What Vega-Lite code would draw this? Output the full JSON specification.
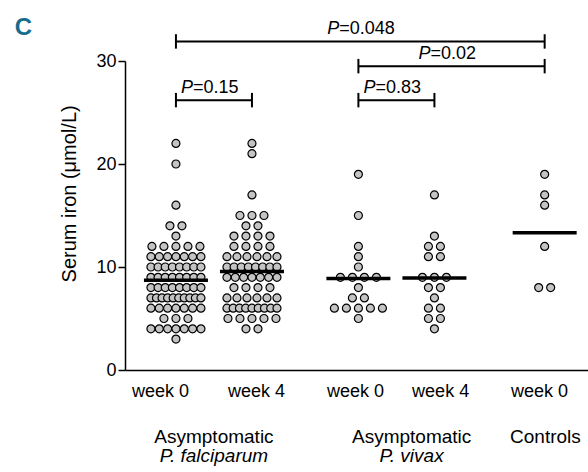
{
  "$schema": "https://vega.github.io/schema/vega-lite/v6.json",
  "width": 463,
  "height": 309,
  "autosize": {"type": "none"},
  "padding": {"left": 125, "top": 61, "right": 0, "bottom": 102},
  "config": {
    "view": {"stroke": null},
    "font": "Liberation Sans, Arial, sans-serif"
  },
  "datasets": {
    "dots": [
      {"g":"Pf0","v":22},{"g":"Pf0","v":20},{"g":"Pf0","v":16},{"g":"Pf0","v":14},{"g":"Pf0","v":14},{"g":"Pf0","v":13},
      {"g":"Pf0","v":12},{"g":"Pf0","v":12},{"g":"Pf0","v":12},{"g":"Pf0","v":12},{"g":"Pf0","v":12},
      {"g":"Pf0","v":11},{"g":"Pf0","v":11},{"g":"Pf0","v":11},{"g":"Pf0","v":11},{"g":"Pf0","v":11},{"g":"Pf0","v":11},{"g":"Pf0","v":11},
      {"g":"Pf0","v":10},{"g":"Pf0","v":10},{"g":"Pf0","v":10},{"g":"Pf0","v":10},{"g":"Pf0","v":10},{"g":"Pf0","v":10},{"g":"Pf0","v":10},{"g":"Pf0","v":10},
      {"g":"Pf0","v":9},{"g":"Pf0","v":9},{"g":"Pf0","v":9},{"g":"Pf0","v":9},{"g":"Pf0","v":9},{"g":"Pf0","v":9},{"g":"Pf0","v":9},{"g":"Pf0","v":9},
      {"g":"Pf0","v":8},{"g":"Pf0","v":8},{"g":"Pf0","v":8},{"g":"Pf0","v":8},{"g":"Pf0","v":8},{"g":"Pf0","v":8},{"g":"Pf0","v":8},{"g":"Pf0","v":8},
      {"g":"Pf0","v":7},{"g":"Pf0","v":7},{"g":"Pf0","v":7},{"g":"Pf0","v":7},{"g":"Pf0","v":7},{"g":"Pf0","v":7},{"g":"Pf0","v":7},{"g":"Pf0","v":7},{"g":"Pf0","v":7},{"g":"Pf0","v":7},
      {"g":"Pf0","v":6},{"g":"Pf0","v":6},{"g":"Pf0","v":6},{"g":"Pf0","v":6},{"g":"Pf0","v":6},{"g":"Pf0","v":6},{"g":"Pf0","v":6},
      {"g":"Pf0","v":5},{"g":"Pf0","v":5},{"g":"Pf0","v":5},
      {"g":"Pf0","v":4},{"g":"Pf0","v":4},{"g":"Pf0","v":4},{"g":"Pf0","v":4},{"g":"Pf0","v":4},{"g":"Pf0","v":4},{"g":"Pf0","v":4},
      {"g":"Pf0","v":3},
      {"g":"Pf4","v":22},{"g":"Pf4","v":21},{"g":"Pf4","v":17},{"g":"Pf4","v":15},{"g":"Pf4","v":15},{"g":"Pf4","v":15},
      {"g":"Pf4","v":14},{"g":"Pf4","v":14},
      {"g":"Pf4","v":13},{"g":"Pf4","v":13},{"g":"Pf4","v":13},{"g":"Pf4","v":13},
      {"g":"Pf4","v":12},{"g":"Pf4","v":12},{"g":"Pf4","v":12},{"g":"Pf4","v":12},
      {"g":"Pf4","v":11},{"g":"Pf4","v":11},{"g":"Pf4","v":11},{"g":"Pf4","v":11},{"g":"Pf4","v":11},{"g":"Pf4","v":11},
      {"g":"Pf4","v":10},{"g":"Pf4","v":10},{"g":"Pf4","v":10},{"g":"Pf4","v":10},{"g":"Pf4","v":10},{"g":"Pf4","v":10},{"g":"Pf4","v":10},{"g":"Pf4","v":10},
      {"g":"Pf4","v":9},{"g":"Pf4","v":9},{"g":"Pf4","v":9},{"g":"Pf4","v":9},{"g":"Pf4","v":9},{"g":"Pf4","v":9},{"g":"Pf4","v":9},
      {"g":"Pf4","v":8},{"g":"Pf4","v":8},{"g":"Pf4","v":8},{"g":"Pf4","v":8},
      {"g":"Pf4","v":7},{"g":"Pf4","v":7},{"g":"Pf4","v":7},{"g":"Pf4","v":7},{"g":"Pf4","v":7},{"g":"Pf4","v":7},
      {"g":"Pf4","v":6},{"g":"Pf4","v":6},{"g":"Pf4","v":6},{"g":"Pf4","v":6},{"g":"Pf4","v":6},{"g":"Pf4","v":6},{"g":"Pf4","v":6},{"g":"Pf4","v":6},{"g":"Pf4","v":6},
      {"g":"Pf4","v":5},{"g":"Pf4","v":5},{"g":"Pf4","v":5},{"g":"Pf4","v":5},{"g":"Pf4","v":5},
      {"g":"Pf4","v":4},{"g":"Pf4","v":4},
      {"g":"Pv0","v":19},{"g":"Pv0","v":15},{"g":"Pv0","v":12},{"g":"Pv0","v":11},{"g":"Pv0","v":10},
      {"g":"Pv0","v":9},{"g":"Pv0","v":9},{"g":"Pv0","v":9},{"g":"Pv0","v":9},{"g":"Pv0","v":8},
      {"g":"Pv0","v":7},{"g":"Pv0","v":7},
      {"g":"Pv0","v":6},{"g":"Pv0","v":6},{"g":"Pv0","v":6},{"g":"Pv0","v":6},{"g":"Pv0","v":6},{"g":"Pv0","v":5},
      {"g":"Pv4","v":17},{"g":"Pv4","v":13},{"g":"Pv4","v":12},{"g":"Pv4","v":12},{"g":"Pv4","v":11},{"g":"Pv4","v":11},
      {"g":"Pv4","v":9},{"g":"Pv4","v":9},{"g":"Pv4","v":9},{"g":"Pv4","v":8},{"g":"Pv4","v":8},{"g":"Pv4","v":7},
      {"g":"Pv4","v":6},{"g":"Pv4","v":6},{"g":"Pv4","v":5},{"g":"Pv4","v":5},{"g":"Pv4","v":4},
      {"g":"C0","v":19},{"g":"C0","v":17},{"g":"C0","v":16},{"g":"C0","v":12},{"g":"C0","v":8},{"g":"C0","v":8}
    ],
    "tests": [
      {"a":"Pf0","b":"C0","lvl":31.9,"p":"=0.048"},
      {"a":"Pv0","b":"C0","lvl":29.5,"p":"=0.02"},
      {"a":"Pf0","b":"Pf4","lvl":26.2,"p":"=0.15"},
      {"a":"Pv0","b":"Pv4","lvl":26.2,"p":"=0.83"}
    ],
    "one": [{}]
  },
  "layer": [
    {
      "data": {"name": "dots"},
      "transform": [
        {"window": [{"op": "row_number", "as": "k"}, {"op": "count", "as": "n"}], "groupby": ["g", "v"], "frame": [null, null]},
        {"calculate": "[1,2,3.4,4.4,5.85][indexof(['Pf0','Pf4','Pv0','Pv4','C0'], datum.g)]", "as": "pos"},
        {"calculate": "min(12, 50/max(datum.n-1,1))", "as": "s"},
        {"calculate": "datum.pos + (datum.k - (datum.n+1)/2)*datum.s/76", "as": "xj"}
      ],
      "mark": {"type": "point", "filled": true, "fill": "#c4c4c4", "stroke": "black", "strokeWidth": 1.2, "size": 64, "opacity": 1},
      "encoding": {
        "x": {"field": "xj", "type": "quantitative", "title": null,
              "scale": {"domain": [0.33, 6.42], "nice": false, "zero": false},
              "axis": {"values": [0.79, 2.054, 3.356, 4.475, 5.777],
                       "labelExpr": "(datum.value < 1.5 || (datum.value > 3 && datum.value < 4) || datum.value > 5) ? 'week 0' : 'week 4'",
                       "ticks": false, "grid": false, "domainColor": "black", "domainWidth": 1.5,
                       "labelFontSize": 18, "labelColor": "black", "labelBaseline": "alphabetic", "labelPadding": 26,
                       "labelFlush": false, "labelOverlap": false}},
        "y": {"field": "v", "type": "quantitative", "title": null,
              "scale": {"domain": [0, 30], "nice": false},
              "axis": {"values": [0, 10, 20, 30], "grid": false, "domainColor": "black", "domainWidth": 1.5,
                       "tickColor": "black", "tickWidth": 1.5, "tickSize": 7, "labelFontSize": 18, "labelColor": "black",
                       "labelPadding": 2}}
      }
    },
    {
      "data": {"name": "dots"},
      "transform": [
        {"aggregate": [{"op": "mean", "field": "v", "as": "m"}], "groupby": ["g"]},
        {"calculate": "[1,2,3.4,4.4,5.85][indexof(['Pf0','Pf4','Pv0','Pv4','C0'], datum.g)]", "as": "pos"}
      ],
      "mark": {"type": "tick", "orient": "horizontal", "size": 64, "thickness": 3.5, "color": "black", "opacity": 1},
      "encoding": {
        "x": {"field": "pos", "type": "quantitative", "title": null},
        "y": {"field": "m", "type": "quantitative", "title": null}
      }
    },
    {
      "data": {"name": "tests"},
      "transform": [
        {"calculate": "[1,2,3.4,4.4,5.85][indexof(['Pf0','Pf4','Pv0','Pv4','C0'], datum.a)]", "as": "xa"},
        {"calculate": "[1,2,3.4,4.4,5.85][indexof(['Pf0','Pf4','Pv0','Pv4','C0'], datum.b)]", "as": "xb"},
        {"calculate": "(datum.xa + datum.xb)/2", "as": "mid"},
        {"calculate": "datum.lvl - 0.7", "as": "lo"},
        {"calculate": "datum.lvl + 0.7", "as": "hi"}
      ],
      "layer": [
        {
          "mark": {"type": "rule", "color": "black", "strokeWidth": 2},
          "encoding": {
            "x": {"field": "xa", "type": "quantitative", "title": null},
            "x2": {"field": "xb"},
            "y": {"field": "lvl", "type": "quantitative", "title": null}
          }
        },
        {
          "mark": {"type": "rule", "color": "black", "strokeWidth": 2},
          "encoding": {
            "x": {"field": "xa", "type": "quantitative", "title": null},
            "y": {"field": "lo", "type": "quantitative", "title": null},
            "y2": {"field": "hi"}
          }
        },
        {
          "mark": {"type": "rule", "color": "black", "strokeWidth": 2},
          "encoding": {
            "x": {"field": "xb", "type": "quantitative", "title": null},
            "y": {"field": "lo", "type": "quantitative", "title": null},
            "y2": {"field": "hi"}
          }
        },
        {
          "mark": {"type": "text", "text": "P", "fontStyle": "italic", "fontSize": 18, "align": "right", "baseline": "alphabetic", "dx": -21, "dy": -7, "color": "black"},
          "encoding": {
            "x": {"field": "mid", "type": "quantitative", "title": null},
            "y": {"field": "lvl", "type": "quantitative", "title": null}
          }
        },
        {
          "mark": {"type": "text", "fontSize": 18, "align": "left", "baseline": "alphabetic", "dx": -21, "dy": -7, "color": "black"},
          "encoding": {
            "x": {"field": "mid", "type": "quantitative", "title": null},
            "y": {"field": "lvl", "type": "quantitative", "title": null},
            "text": {"field": "p"}
          }
        }
      ]
    },
    {
      "data": {"name": "one"},
      "mark": {"type": "text", "text": "Serum iron (μmol/L)", "fontSize": 20, "angle": 270, "align": "center", "baseline": "alphabetic", "color": "black"},
      "encoding": {"x": {"datum": -0.31}, "y": {"datum": 17.1}}
    },
    {
      "data": {"name": "one"},
      "mark": {"type": "text", "text": "Asymptomatic", "fontSize": 19, "align": "center", "baseline": "alphabetic", "color": "black"},
      "encoding": {"x": {"datum": 1.5}, "y": {"datum": -7.09}}
    },
    {
      "data": {"name": "one"},
      "mark": {"type": "text", "text": "P. falciparum", "fontSize": 19, "fontStyle": "italic", "align": "center", "baseline": "alphabetic", "color": "black"},
      "encoding": {"x": {"datum": 1.5}, "y": {"datum": -8.93}}
    },
    {
      "data": {"name": "one"},
      "mark": {"type": "text", "text": "Asymptomatic", "fontSize": 19, "align": "center", "baseline": "alphabetic", "color": "black"},
      "encoding": {"x": {"datum": 4.1}, "y": {"datum": -7.09}}
    },
    {
      "data": {"name": "one"},
      "mark": {"type": "text", "text": "P. vivax", "fontSize": 19, "fontStyle": "italic", "align": "center", "baseline": "alphabetic", "color": "black"},
      "encoding": {"x": {"datum": 4.1}, "y": {"datum": -8.93}}
    },
    {
      "data": {"name": "one"},
      "mark": {"type": "text", "text": "Controls", "fontSize": 19, "align": "center", "baseline": "alphabetic", "color": "black"},
      "encoding": {"x": {"datum": 5.86}, "y": {"datum": -7.09}}
    },
    {
      "data": {"name": "one"},
      "mark": {"type": "text", "text": "C", "fontSize": 24, "fontWeight": "bold", "font": "Liberation Sans Narrow, Liberation Sans, Arial, sans-serif", "align": "left", "baseline": "alphabetic", "color": "#176c8e"},
      "encoding": {"x": {"datum": -1.12}, "y": {"datum": 32.5}}
    }
  ]
}
